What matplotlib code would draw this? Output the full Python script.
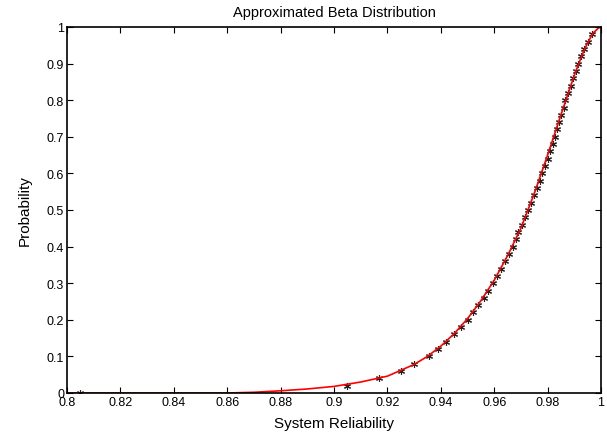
import numpy as np
import matplotlib
matplotlib.use('Agg')
import matplotlib.pyplot as plt

# Datos empiricos (estrellas negras)
prob_emp = [0.00, 0.02, 0.04, 0.06, 0.08, 0.10, 0.12, 0.14, 0.16, 0.18,
            0.20, 0.22, 0.24, 0.26, 0.28, 0.30, 0.32, 0.34, 0.36, 0.38,
            0.40, 0.42, 0.44, 0.46, 0.48, 0.50, 0.52, 0.54, 0.56, 0.58,
            0.60, 0.62, 0.64, 0.66, 0.68, 0.70, 0.72, 0.74, 0.76, 0.78,
            0.80, 0.82, 0.84, 0.86, 0.88, 0.90, 0.92, 0.94, 0.96, 0.98]
rel_emp = [0.805, 0.905, 0.917, 0.925, 0.930, 0.9355, 0.939, 0.942, 0.945, 0.9475,
           0.950, 0.952, 0.954, 0.956, 0.9578, 0.9595, 0.961, 0.9625, 0.964, 0.9655,
           0.967, 0.968, 0.969, 0.9705, 0.9715, 0.9726, 0.9737, 0.9748, 0.9759, 0.9770,
           0.9780, 0.9790, 0.9800, 0.9810, 0.9820, 0.9828, 0.9836, 0.9844, 0.9852, 0.9860,
           0.9867, 0.9877, 0.9887, 0.9897, 0.9906, 0.9914, 0.9926, 0.9938, 0.9952, 0.9966]

# Curva beta aproximada (linea roja)
rel_fit = [0.800, 0.860, 0.870, 0.880, 0.890, 0.900, 0.910, 0.920, 0.930, 0.935,
           0.940, 0.945, 0.950, 0.955, 0.960, 0.965, 0.970, 0.975, 0.980, 0.985,
           0.990, 0.993, 0.995, 0.997, 0.999, 1.000]
prob_fit = [0.000, 0.000, 0.002, 0.006, 0.011, 0.018, 0.030, 0.046, 0.078, 0.100,
            0.128, 0.162, 0.203, 0.252, 0.308, 0.375, 0.450, 0.545, 0.650, 0.760,
            0.868, 0.925, 0.957, 0.983, 0.997, 1.000]

xticks = [0.8, 0.82, 0.84, 0.86, 0.88, 0.9, 0.92, 0.94, 0.96, 0.98, 1]
xtick_labels = ['0.8', '0.82', '0.84', '0.86', '0.88', '0.9', '0.92', '0.94', '0.96', '0.98', '1']
yticks = [0, 0.1, 0.2, 0.3, 0.4, 0.5, 0.6, 0.7, 0.8, 0.9, 1]
ytick_labels = ['0', '0.1', '0.2', '0.3', '0.4', '0.5', '0.6', '0.7', '0.8', '0.9', '1']

plt.rcParams['font.family'] = ['Liberation Sans', 'DejaVu Sans']

fig = plt.figure(figsize=(6.07, 4.35), dpi=100)
ax = fig.add_axes([67/607, 41/435, 534/607, 366/435])

# puntos empiricos como asteriscos estilo MATLAB
ax.plot(rel_emp, prob_emp, linestyle='none', marker=(6, 2, 0), markersize=5,
        markeredgewidth=0.8, color='#222222')
# curva ajustada
ax.plot(rel_fit, prob_fit, color='red', linewidth=1.2)

ax.set_xlim(0.8, 1)
ax.set_ylim(0, 1)
ax.set_xticks(xticks)
ax.set_xticklabels(xtick_labels)
ax.set_yticks(yticks)
ax.set_yticklabels(ytick_labels)
ax.tick_params(direction='in', top=True, right=True, labelsize=9, length=4, width=0.8, pad=2)
for s in ax.spines.values():
    s.set_linewidth(1.2)

ax.set_title('Approximated Beta Distribution', fontsize=10.5, pad=8)
ax.set_xlabel('System Reliability', fontsize=11, labelpad=6)
ax.set_ylabel('Probability', fontsize=11, labelpad=11)

fig.savefig('out.png', dpi=100)
